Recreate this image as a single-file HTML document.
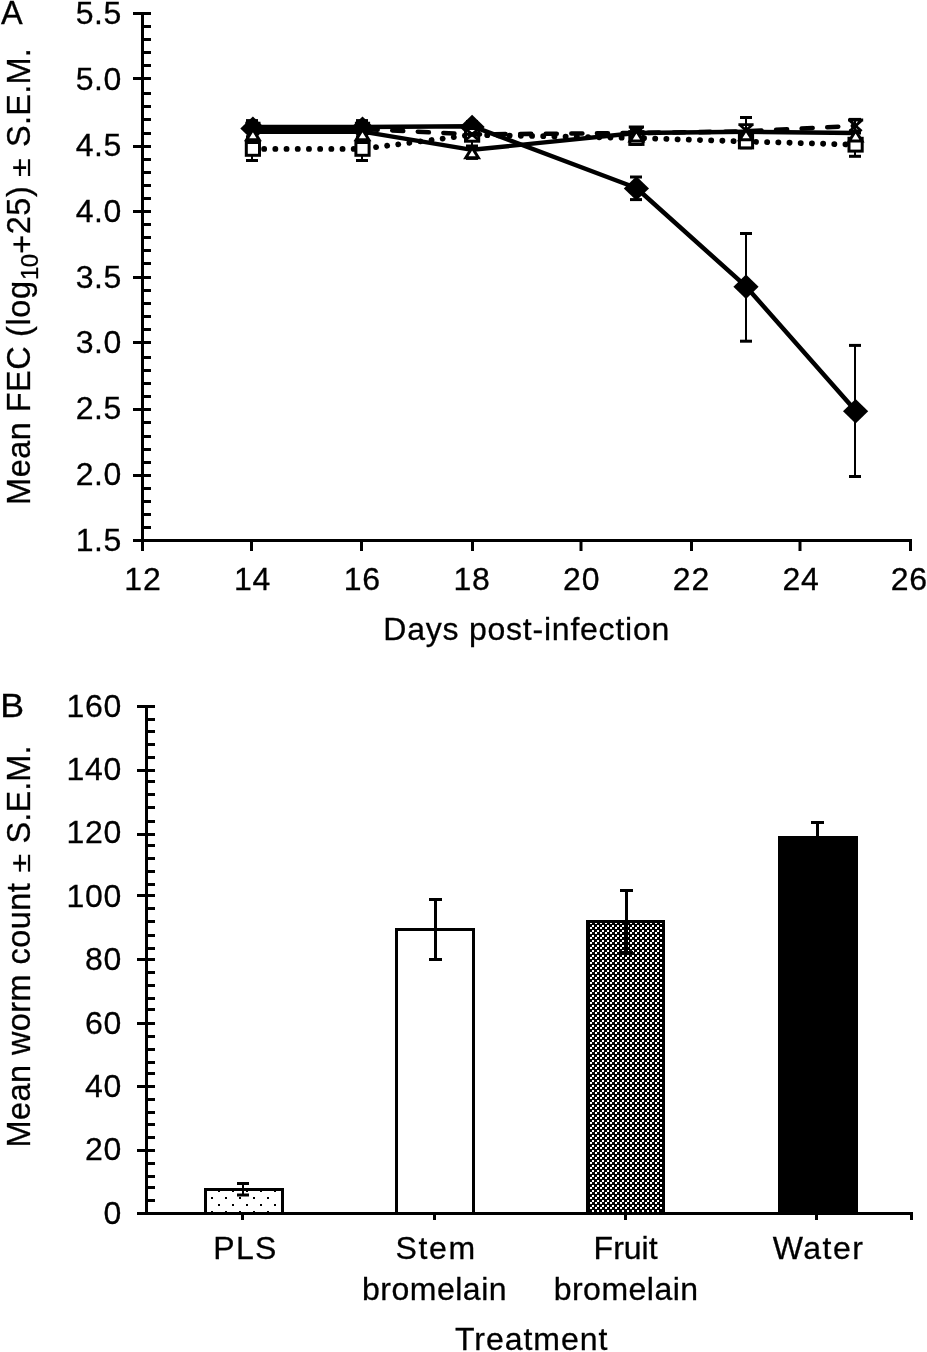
<!DOCTYPE html>
<html lang="en"><head><meta charset="utf-8"><title>Figure</title>
<style>html,body{margin:0;padding:0;background:#fff}svg{display:block;will-change:transform}text{stroke:#000;stroke-width:.3px}</style></head>
<body>
<svg width="927" height="1352" viewBox="0 0 927 1352" font-family="'Liberation Sans', sans-serif" fill="#000">
<defs>
<pattern id="dots" x="211" y="1197" width="14" height="14" patternUnits="userSpaceOnUse"><rect width="14" height="14" fill="#fff"/><rect x="0" y="0" width="2" height="2" fill="#000"/><rect x="7" y="7" width="2" height="2" fill="#000"/></pattern>
<pattern id="chk" x="590" y="1005" width="5" height="5" patternUnits="userSpaceOnUse"><rect width="5" height="5" fill="#000"/><rect x="2" y="0" width="2" height="2" fill="#fff"/><rect x="0" y="2" width="2" height="2" fill="#fff"/></pattern>
</defs>
<rect width="927" height="1352" fill="#fff"/>
<g id="panelA">
<text x="1.00" y="24.00" font-size="32.5" text-anchor="start" >A</text>
<line x1="142.50" y1="12.00" x2="142.50" y2="540.50" stroke="#000" stroke-width="3" />
<line x1="133.00" y1="13.50" x2="151.00" y2="13.50" stroke="#000" stroke-width="3" />
<text x="122.00" y="24.00" font-size="32" text-anchor="end" letter-spacing="0.6">5.5</text>
<line x1="142.50" y1="26.50" x2="151.00" y2="26.50" stroke="#000" stroke-width="3" />
<line x1="142.50" y1="39.50" x2="151.00" y2="39.50" stroke="#000" stroke-width="3" />
<line x1="142.50" y1="52.50" x2="151.00" y2="52.50" stroke="#000" stroke-width="3" />
<line x1="142.50" y1="65.50" x2="151.00" y2="65.50" stroke="#000" stroke-width="3" />
<line x1="133.00" y1="78.50" x2="151.00" y2="78.50" stroke="#000" stroke-width="3" />
<text x="122.00" y="89.88" font-size="32" text-anchor="end" letter-spacing="0.6">5.0</text>
<line x1="142.50" y1="93.50" x2="151.00" y2="93.50" stroke="#000" stroke-width="3" />
<line x1="142.50" y1="106.50" x2="151.00" y2="106.50" stroke="#000" stroke-width="3" />
<line x1="142.50" y1="119.50" x2="151.00" y2="119.50" stroke="#000" stroke-width="3" />
<line x1="142.50" y1="133.50" x2="151.00" y2="133.50" stroke="#000" stroke-width="3" />
<line x1="133.00" y1="146.50" x2="151.00" y2="146.50" stroke="#000" stroke-width="3" />
<text x="122.00" y="155.75" font-size="32" text-anchor="end" letter-spacing="0.6">4.5</text>
<line x1="142.50" y1="159.50" x2="151.00" y2="159.50" stroke="#000" stroke-width="3" />
<line x1="142.50" y1="172.50" x2="151.00" y2="172.50" stroke="#000" stroke-width="3" />
<line x1="142.50" y1="185.50" x2="151.00" y2="185.50" stroke="#000" stroke-width="3" />
<line x1="142.50" y1="198.50" x2="151.00" y2="198.50" stroke="#000" stroke-width="3" />
<line x1="133.00" y1="211.50" x2="151.00" y2="211.50" stroke="#000" stroke-width="3" />
<text x="122.00" y="221.62" font-size="32" text-anchor="end" letter-spacing="0.6">4.0</text>
<line x1="142.50" y1="224.50" x2="151.00" y2="224.50" stroke="#000" stroke-width="3" />
<line x1="142.50" y1="237.50" x2="151.00" y2="237.50" stroke="#000" stroke-width="3" />
<line x1="142.50" y1="250.50" x2="151.00" y2="250.50" stroke="#000" stroke-width="3" />
<line x1="142.50" y1="263.50" x2="151.00" y2="263.50" stroke="#000" stroke-width="3" />
<line x1="133.00" y1="277.50" x2="151.00" y2="277.50" stroke="#000" stroke-width="3" />
<text x="122.00" y="287.50" font-size="32" text-anchor="end" letter-spacing="0.6">3.5</text>
<line x1="142.50" y1="290.50" x2="151.00" y2="290.50" stroke="#000" stroke-width="3" />
<line x1="142.50" y1="303.50" x2="151.00" y2="303.50" stroke="#000" stroke-width="3" />
<line x1="142.50" y1="316.50" x2="151.00" y2="316.50" stroke="#000" stroke-width="3" />
<line x1="142.50" y1="329.50" x2="151.00" y2="329.50" stroke="#000" stroke-width="3" />
<line x1="133.00" y1="342.50" x2="151.00" y2="342.50" stroke="#000" stroke-width="3" />
<text x="122.00" y="353.38" font-size="32" text-anchor="end" letter-spacing="0.6">3.0</text>
<line x1="142.50" y1="357.50" x2="151.00" y2="357.50" stroke="#000" stroke-width="3" />
<line x1="142.50" y1="370.50" x2="151.00" y2="370.50" stroke="#000" stroke-width="3" />
<line x1="142.50" y1="383.50" x2="151.00" y2="383.50" stroke="#000" stroke-width="3" />
<line x1="142.50" y1="396.50" x2="151.00" y2="396.50" stroke="#000" stroke-width="3" />
<line x1="133.00" y1="409.50" x2="151.00" y2="409.50" stroke="#000" stroke-width="3" />
<text x="122.00" y="419.25" font-size="32" text-anchor="end" letter-spacing="0.6">2.5</text>
<line x1="142.50" y1="422.50" x2="151.00" y2="422.50" stroke="#000" stroke-width="3" />
<line x1="142.50" y1="436.50" x2="151.00" y2="436.50" stroke="#000" stroke-width="3" />
<line x1="142.50" y1="449.50" x2="151.00" y2="449.50" stroke="#000" stroke-width="3" />
<line x1="142.50" y1="462.50" x2="151.00" y2="462.50" stroke="#000" stroke-width="3" />
<line x1="133.00" y1="475.50" x2="151.00" y2="475.50" stroke="#000" stroke-width="3" />
<text x="122.00" y="485.12" font-size="32" text-anchor="end" letter-spacing="0.6">2.0</text>
<line x1="142.50" y1="488.50" x2="151.00" y2="488.50" stroke="#000" stroke-width="3" />
<line x1="142.50" y1="501.50" x2="151.00" y2="501.50" stroke="#000" stroke-width="3" />
<line x1="142.50" y1="514.50" x2="151.00" y2="514.50" stroke="#000" stroke-width="3" />
<line x1="142.50" y1="527.50" x2="151.00" y2="527.50" stroke="#000" stroke-width="3" />
<line x1="133.00" y1="540.50" x2="151.00" y2="540.50" stroke="#000" stroke-width="3" />
<text x="122.00" y="551.00" font-size="32" text-anchor="end" letter-spacing="0.6">1.5</text>
<line x1="133.00" y1="540.50" x2="912.00" y2="540.50" stroke="#000" stroke-width="3" />
<line x1="142.50" y1="540.50" x2="142.50" y2="551.00" stroke="#000" stroke-width="3" />
<text x="142.90" y="589.70" font-size="32" text-anchor="middle" letter-spacing="0.8">12</text>
<line x1="251.50" y1="540.50" x2="251.50" y2="551.00" stroke="#000" stroke-width="3" />
<text x="252.60" y="589.70" font-size="32" text-anchor="middle" letter-spacing="0.8">14</text>
<line x1="361.50" y1="540.50" x2="361.50" y2="551.00" stroke="#000" stroke-width="3" />
<text x="362.30" y="589.70" font-size="32" text-anchor="middle" letter-spacing="0.8">16</text>
<line x1="472.50" y1="540.50" x2="472.50" y2="551.00" stroke="#000" stroke-width="3" />
<text x="472.00" y="589.70" font-size="32" text-anchor="middle" letter-spacing="0.8">18</text>
<line x1="581.00" y1="540.50" x2="581.00" y2="551.00" stroke="#000" stroke-width="3" />
<text x="581.70" y="589.70" font-size="32" text-anchor="middle" letter-spacing="0.8">20</text>
<line x1="691.50" y1="540.50" x2="691.50" y2="551.00" stroke="#000" stroke-width="3" />
<text x="691.40" y="589.70" font-size="32" text-anchor="middle" letter-spacing="0.8">22</text>
<line x1="800.00" y1="540.50" x2="800.00" y2="551.00" stroke="#000" stroke-width="3" />
<text x="801.10" y="589.70" font-size="32" text-anchor="middle" letter-spacing="0.8">24</text>
<line x1="910.50" y1="540.50" x2="910.50" y2="551.00" stroke="#000" stroke-width="3" />
<text x="909.30" y="589.70" font-size="32" text-anchor="middle" letter-spacing="0.8">26</text>
<text x="526.30" y="640.00" font-size="32" text-anchor="middle" textLength="286" lengthAdjust="spacing" >Days post-infection</text>
<text transform="translate(30.0,504.9) rotate(-90)" font-size="32.5" letter-spacing="0.46">Mean FEC</text>
<text transform="translate(30.0,336.9) rotate(-90)" font-size="32.5" letter-spacing="0.59">(log</text>
<text transform="translate(38.2,280.0) rotate(-90)" font-size="24" letter-spacing="-0.5">10</text>
<text transform="translate(33.2,253.8) rotate(-90)" font-size="32.5">+</text>
<text transform="translate(30.0,234.3) rotate(-90)" font-size="32.5" letter-spacing="0.57">25)</text>
<text transform="translate(30.0,176.9) rotate(-90) scale(1.04,0.85)" font-size="32.5">±</text>
<text transform="translate(30.0,147.0) rotate(-90)" font-size="32.5" letter-spacing="0.26">S.E.M.</text>
<line x1="252.00" y1="120.60" x2="252.00" y2="137.00" stroke="#000" stroke-width="2" />
<line x1="246.00" y1="120.60" x2="258.00" y2="120.60" stroke="#000" stroke-width="3" />
<line x1="246.00" y1="137.00" x2="258.00" y2="137.00" stroke="#000" stroke-width="3" />
<line x1="362.00" y1="120.60" x2="362.00" y2="137.00" stroke="#000" stroke-width="2" />
<line x1="356.00" y1="120.60" x2="368.00" y2="120.60" stroke="#000" stroke-width="3" />
<line x1="356.00" y1="137.00" x2="368.00" y2="137.00" stroke="#000" stroke-width="3" />
<line x1="472.00" y1="121.50" x2="472.00" y2="134.00" stroke="#000" stroke-width="2" />
<line x1="466.00" y1="121.50" x2="478.00" y2="121.50" stroke="#000" stroke-width="3" />
<line x1="466.00" y1="134.00" x2="478.00" y2="134.00" stroke="#000" stroke-width="3" />
<line x1="636.00" y1="177.00" x2="636.00" y2="199.60" stroke="#000" stroke-width="2" />
<line x1="630.00" y1="177.00" x2="642.00" y2="177.00" stroke="#000" stroke-width="3" />
<line x1="630.00" y1="199.60" x2="642.00" y2="199.60" stroke="#000" stroke-width="3" />
<line x1="746.00" y1="233.50" x2="746.00" y2="341.20" stroke="#000" stroke-width="2" />
<line x1="740.00" y1="233.50" x2="752.00" y2="233.50" stroke="#000" stroke-width="3" />
<line x1="740.00" y1="341.20" x2="752.00" y2="341.20" stroke="#000" stroke-width="3" />
<line x1="855.00" y1="345.40" x2="855.00" y2="476.50" stroke="#000" stroke-width="2" />
<line x1="849.00" y1="345.40" x2="861.00" y2="345.40" stroke="#000" stroke-width="3" />
<line x1="849.00" y1="476.50" x2="861.00" y2="476.50" stroke="#000" stroke-width="3" />
<polyline points="252.9,127.1 362.5,127.0 472.1,126.2 636.4,188.0 746.0,286.4 855.6,410.8" fill="none" stroke="#000" stroke-width="4.5" stroke-linejoin="round" />
<path d="M252.9 116.4L265.5 128.6L252.9 140.8L240.3 128.6Z" fill="#000"/>
<path d="M362.5 116.4L375.1 128.6L362.5 140.8L349.9 128.6Z" fill="#000"/>
<path d="M472.1 114.8L484.7 127.0L472.1 139.2L459.5 127.0Z" fill="#000"/>
<path d="M636.4 176.2L649.0 188.4L636.4 200.6L623.8 188.4Z" fill="#000"/>
<path d="M746.0 274.6L758.6 286.8L746.0 299.0L733.4 286.8Z" fill="#000"/>
<path d="M855.6 399.0L868.2 411.2L855.6 423.4L843.0 411.2Z" fill="#000"/>
<rect x="252.9" y="125" width="109.6" height="8.8" fill="#000"/>
<line x1="252.00" y1="137.00" x2="252.00" y2="160.50" stroke="#000" stroke-width="2" />
<line x1="246.00" y1="137.00" x2="258.00" y2="137.00" stroke="#000" stroke-width="3" />
<line x1="246.00" y1="160.50" x2="258.00" y2="160.50" stroke="#000" stroke-width="3" />
<line x1="362.00" y1="137.00" x2="362.00" y2="160.50" stroke="#000" stroke-width="2" />
<line x1="356.00" y1="137.00" x2="368.00" y2="137.00" stroke="#000" stroke-width="3" />
<line x1="356.00" y1="160.50" x2="368.00" y2="160.50" stroke="#000" stroke-width="3" />
<line x1="472.00" y1="130.00" x2="472.00" y2="147.00" stroke="#000" stroke-width="2" />
<line x1="466.00" y1="130.00" x2="478.00" y2="130.00" stroke="#000" stroke-width="3" />
<line x1="466.00" y1="147.00" x2="478.00" y2="147.00" stroke="#000" stroke-width="3" />
<line x1="636.00" y1="132.00" x2="636.00" y2="144.40" stroke="#000" stroke-width="2" />
<line x1="630.00" y1="132.00" x2="642.00" y2="132.00" stroke="#000" stroke-width="3" />
<line x1="630.00" y1="144.40" x2="642.00" y2="144.40" stroke="#000" stroke-width="3" />
<line x1="746.00" y1="133.00" x2="746.00" y2="147.80" stroke="#000" stroke-width="2" />
<line x1="740.00" y1="133.00" x2="752.00" y2="133.00" stroke="#000" stroke-width="3" />
<line x1="740.00" y1="147.80" x2="752.00" y2="147.80" stroke="#000" stroke-width="3" />
<line x1="855.00" y1="133.00" x2="855.00" y2="156.30" stroke="#000" stroke-width="2" />
<line x1="849.00" y1="133.00" x2="861.00" y2="133.00" stroke="#000" stroke-width="3" />
<line x1="849.00" y1="156.30" x2="861.00" y2="156.30" stroke="#000" stroke-width="3" />
<polyline points="252.9,148.9 362.5,148.9 472.1,134.8 636.4,138.0 746.0,141.5 855.6,144.7" fill="none" stroke="#000" stroke-width="5.8" stroke-linejoin="round" stroke-linecap="round" stroke-dasharray="0.1 11.1"/>
<rect x="246.3" y="142.5" width="13.2" height="12.8" fill="#fff" stroke="#000" stroke-width="3"/>
<rect x="355.9" y="142.5" width="13.2" height="12.8" fill="#fff" stroke="#000" stroke-width="3"/>
<rect x="465.5" y="128.4" width="13.2" height="12.8" fill="#fff" stroke="#000" stroke-width="3"/>
<rect x="629.8" y="131.6" width="13.2" height="12.8" fill="#fff" stroke="#000" stroke-width="3"/>
<rect x="739.4" y="135.1" width="13.2" height="12.8" fill="#fff" stroke="#000" stroke-width="3"/>
<rect x="849.0" y="138.3" width="13.2" height="12.8" fill="#fff" stroke="#000" stroke-width="3"/>
<line x1="636.00" y1="128.60" x2="636.00" y2="138.00" stroke="#000" stroke-width="2" />
<line x1="630.00" y1="128.60" x2="642.00" y2="128.60" stroke="#000" stroke-width="3" />
<line x1="630.00" y1="138.00" x2="642.00" y2="138.00" stroke="#000" stroke-width="3" />
<line x1="746.00" y1="117.50" x2="746.00" y2="136.00" stroke="#000" stroke-width="2" />
<line x1="740.00" y1="117.50" x2="752.00" y2="117.50" stroke="#000" stroke-width="3" />
<line x1="740.00" y1="136.00" x2="752.00" y2="136.00" stroke="#000" stroke-width="3" />
<line x1="855.00" y1="119.40" x2="855.00" y2="131.00" stroke="#000" stroke-width="2" />
<line x1="849.00" y1="119.40" x2="861.00" y2="119.40" stroke="#000" stroke-width="3" />
<line x1="849.00" y1="131.00" x2="861.00" y2="131.00" stroke="#000" stroke-width="3" />
<polyline points="252.9,129.0 362.5,129.0 472.1,134.4 636.4,133.0 746.0,131.4 855.6,125.8" fill="none" stroke="#000" stroke-width="4.6" stroke-linejoin="round" stroke-linecap="round" stroke-dasharray="11 14.6" stroke-dashoffset="-11.4"/>
<path d="M246.9 123.6L258.9 134.4M258.9 123.6L246.9 134.4M245.3 123.2H260.5" fill="none" stroke="#000" stroke-width="2.8"/>
<path d="M356.5 123.6L368.5 134.4M368.5 123.6L356.5 134.4M354.9 123.2H370.1" fill="none" stroke="#000" stroke-width="2.8"/>
<path d="M466.1 129.0L478.1 139.8M478.1 129.0L466.1 139.8M464.5 128.6H479.7" fill="none" stroke="#000" stroke-width="2.8"/>
<path d="M630.4 127.4L642.4 138.2M642.4 127.4L630.4 138.2M628.8 127.0H644.0" fill="none" stroke="#000" stroke-width="2.8"/>
<path d="M740.0 125.0L752.0 135.8M752.0 125.0L740.0 135.8M738.4 124.6H753.6" fill="none" stroke="#000" stroke-width="2.8"/>
<path d="M849.6 120.4L861.6 131.2M861.6 120.4L849.6 131.2M848.0 120.0H863.2" fill="none" stroke="#000" stroke-width="2.8"/>
<line x1="472.00" y1="146.00" x2="472.00" y2="158.40" stroke="#000" stroke-width="2" />
<line x1="466.00" y1="146.00" x2="478.00" y2="146.00" stroke="#000" stroke-width="3" />
<line x1="466.00" y1="158.40" x2="478.00" y2="158.40" stroke="#000" stroke-width="3" />
<polyline points="252.9,131.7 362.5,131.7 472.1,149.8 636.4,133.0 746.0,131.8 855.6,133.0" fill="none" stroke="#000" stroke-width="4.4" stroke-linejoin="round" />
<path d="M252.9 129.5L259.2 139.7H246.6Z" fill="#fff" stroke="#000" stroke-width="3" stroke-linejoin="miter"/>
<path d="M362.5 129.5L368.8 139.7H356.2Z" fill="#fff" stroke="#000" stroke-width="3" stroke-linejoin="miter"/>
<path d="M472.1 147.6L478.4 157.8H465.8Z" fill="#fff" stroke="#000" stroke-width="3" stroke-linejoin="miter"/>
<path d="M636.4 130.8L642.7 141.0H630.1Z" fill="#fff" stroke="#000" stroke-width="3" stroke-linejoin="miter"/>
<path d="M746.0 129.6L752.3 139.8H739.7Z" fill="#fff" stroke="#000" stroke-width="3" stroke-linejoin="miter"/>
<path d="M855.6 130.8L861.9 141.0H849.3Z" fill="#fff" stroke="#000" stroke-width="3" stroke-linejoin="miter"/>
</g>
<g id="panelB">
<text transform="translate(0.2,716.6) scale(1.1,1)" font-size="32.5">B</text>
<line x1="146.50" y1="705.00" x2="146.50" y2="1213.50" stroke="#000" stroke-width="3" />
<line x1="137.00" y1="706.50" x2="155.00" y2="706.50" stroke="#000" stroke-width="3" />
<text x="122.00" y="716.70" font-size="32" text-anchor="end" letter-spacing="0.7">160</text>
<line x1="146.50" y1="719.50" x2="155.00" y2="719.50" stroke="#000" stroke-width="3" />
<line x1="146.50" y1="731.50" x2="155.00" y2="731.50" stroke="#000" stroke-width="3" />
<line x1="146.50" y1="744.50" x2="155.00" y2="744.50" stroke="#000" stroke-width="3" />
<line x1="146.50" y1="757.50" x2="155.00" y2="757.50" stroke="#000" stroke-width="3" />
<line x1="137.00" y1="770.50" x2="155.00" y2="770.50" stroke="#000" stroke-width="3" />
<text x="122.00" y="780.08" font-size="32" text-anchor="end" letter-spacing="0.7">140</text>
<line x1="146.50" y1="781.50" x2="155.00" y2="781.50" stroke="#000" stroke-width="3" />
<line x1="146.50" y1="794.50" x2="155.00" y2="794.50" stroke="#000" stroke-width="3" />
<line x1="146.50" y1="807.50" x2="155.00" y2="807.50" stroke="#000" stroke-width="3" />
<line x1="146.50" y1="821.50" x2="155.00" y2="821.50" stroke="#000" stroke-width="3" />
<line x1="137.00" y1="834.50" x2="155.00" y2="834.50" stroke="#000" stroke-width="3" />
<text x="122.00" y="843.45" font-size="32" text-anchor="end" letter-spacing="0.7">120</text>
<line x1="146.50" y1="845.50" x2="155.00" y2="845.50" stroke="#000" stroke-width="3" />
<line x1="146.50" y1="858.50" x2="155.00" y2="858.50" stroke="#000" stroke-width="3" />
<line x1="146.50" y1="871.50" x2="155.00" y2="871.50" stroke="#000" stroke-width="3" />
<line x1="146.50" y1="884.50" x2="155.00" y2="884.50" stroke="#000" stroke-width="3" />
<line x1="137.00" y1="895.50" x2="155.00" y2="895.50" stroke="#000" stroke-width="3" />
<text x="122.00" y="906.83" font-size="32" text-anchor="end" letter-spacing="0.7">100</text>
<line x1="146.50" y1="908.50" x2="155.00" y2="908.50" stroke="#000" stroke-width="3" />
<line x1="146.50" y1="921.50" x2="155.00" y2="921.50" stroke="#000" stroke-width="3" />
<line x1="146.50" y1="935.50" x2="155.00" y2="935.50" stroke="#000" stroke-width="3" />
<line x1="146.50" y1="948.50" x2="155.00" y2="948.50" stroke="#000" stroke-width="3" />
<line x1="137.00" y1="959.50" x2="155.00" y2="959.50" stroke="#000" stroke-width="3" />
<text x="122.00" y="970.20" font-size="32" text-anchor="end" letter-spacing="0.7">80</text>
<line x1="146.50" y1="972.50" x2="155.00" y2="972.50" stroke="#000" stroke-width="3" />
<line x1="146.50" y1="985.50" x2="155.00" y2="985.50" stroke="#000" stroke-width="3" />
<line x1="146.50" y1="998.50" x2="155.00" y2="998.50" stroke="#000" stroke-width="3" />
<line x1="146.50" y1="1009.50" x2="155.00" y2="1009.50" stroke="#000" stroke-width="3" />
<line x1="137.00" y1="1023.50" x2="155.00" y2="1023.50" stroke="#000" stroke-width="3" />
<text x="122.00" y="1033.58" font-size="32" text-anchor="end" letter-spacing="0.7">60</text>
<line x1="146.50" y1="1036.50" x2="155.00" y2="1036.50" stroke="#000" stroke-width="3" />
<line x1="146.50" y1="1049.50" x2="155.00" y2="1049.50" stroke="#000" stroke-width="3" />
<line x1="146.50" y1="1062.50" x2="155.00" y2="1062.50" stroke="#000" stroke-width="3" />
<line x1="146.50" y1="1073.50" x2="155.00" y2="1073.50" stroke="#000" stroke-width="3" />
<line x1="137.00" y1="1086.50" x2="155.00" y2="1086.50" stroke="#000" stroke-width="3" />
<text x="122.00" y="1096.95" font-size="32" text-anchor="end" letter-spacing="0.7">40</text>
<line x1="146.50" y1="1099.50" x2="155.00" y2="1099.50" stroke="#000" stroke-width="3" />
<line x1="146.50" y1="1112.50" x2="155.00" y2="1112.50" stroke="#000" stroke-width="3" />
<line x1="146.50" y1="1124.50" x2="155.00" y2="1124.50" stroke="#000" stroke-width="3" />
<line x1="146.50" y1="1137.50" x2="155.00" y2="1137.50" stroke="#000" stroke-width="3" />
<line x1="137.00" y1="1150.50" x2="155.00" y2="1150.50" stroke="#000" stroke-width="3" />
<text x="122.00" y="1160.33" font-size="32" text-anchor="end" letter-spacing="0.7">20</text>
<line x1="146.50" y1="1163.50" x2="155.00" y2="1163.50" stroke="#000" stroke-width="3" />
<line x1="146.50" y1="1176.50" x2="155.00" y2="1176.50" stroke="#000" stroke-width="3" />
<line x1="146.50" y1="1187.50" x2="155.00" y2="1187.50" stroke="#000" stroke-width="3" />
<line x1="146.50" y1="1200.50" x2="155.00" y2="1200.50" stroke="#000" stroke-width="3" />
<line x1="137.00" y1="1213.50" x2="155.00" y2="1213.50" stroke="#000" stroke-width="3" />
<text x="122.00" y="1223.70" font-size="32" text-anchor="end" letter-spacing="0.7">0</text>
<line x1="137.00" y1="1213.50" x2="913.00" y2="1213.50" stroke="#000" stroke-width="3" />
<line x1="242.50" y1="1213.50" x2="242.50" y2="1220.00" stroke="#000" stroke-width="3" />
<line x1="434.50" y1="1213.50" x2="434.50" y2="1220.00" stroke="#000" stroke-width="3" />
<line x1="625.50" y1="1213.50" x2="625.50" y2="1220.00" stroke="#000" stroke-width="3" />
<line x1="816.50" y1="1213.50" x2="816.50" y2="1220.00" stroke="#000" stroke-width="3" />
<line x1="911.50" y1="1213.50" x2="911.50" y2="1220.00" stroke="#000" stroke-width="3" />
<rect x="205.5" y="1189.5" width="77.0" height="24.0" fill="url(#dots)" stroke="#000" stroke-width="3"/>
<rect x="396.5" y="929.5" width="77.0" height="284.0" fill="#fff" stroke="#000" stroke-width="3"/>
<rect x="587.5" y="921.5" width="76.0" height="292.0" fill="url(#chk)" stroke="#000" stroke-width="3"/>
<rect x="779.5" y="837.5" width="77.0" height="376.0" fill="#000" stroke="#000" stroke-width="3"/>
<line x1="243.00" y1="1183.50" x2="243.00" y2="1195.00" stroke="#000" stroke-width="2" />
<line x1="237.00" y1="1183.50" x2="249.00" y2="1183.50" stroke="#000" stroke-width="3" />
<line x1="237.00" y1="1195.00" x2="249.00" y2="1195.00" stroke="#000" stroke-width="3" />
<line x1="435.50" y1="899.50" x2="435.50" y2="959.50" stroke="#000" stroke-width="3" />
<line x1="429.00" y1="899.50" x2="442.00" y2="899.50" stroke="#000" stroke-width="3" />
<line x1="429.00" y1="959.50" x2="442.00" y2="959.50" stroke="#000" stroke-width="3" />
<line x1="626.50" y1="890.50" x2="626.50" y2="952.50" stroke="#000" stroke-width="3" />
<line x1="620.00" y1="890.50" x2="633.00" y2="890.50" stroke="#000" stroke-width="3" />
<line x1="620.00" y1="952.50" x2="633.00" y2="952.50" stroke="#000" stroke-width="3" />
<line x1="817.50" y1="822.50" x2="817.50" y2="850.00" stroke="#000" stroke-width="3" />
<line x1="811.00" y1="822.50" x2="824.00" y2="822.50" stroke="#000" stroke-width="3" />
<line x1="811.00" y1="850.00" x2="824.00" y2="850.00" stroke="#000" stroke-width="3" />
<text x="244.80" y="1259.40" font-size="32" text-anchor="middle" textLength="63" lengthAdjust="spacing" >PLS</text>
<text x="435.30" y="1259.40" font-size="32" text-anchor="middle" textLength="79.5" lengthAdjust="spacing" >Stem</text>
<text x="434.30" y="1299.60" font-size="32" text-anchor="middle" textLength="144.5" lengthAdjust="spacing" >bromelain</text>
<text x="625.60" y="1259.40" font-size="32" text-anchor="middle" textLength="64" lengthAdjust="spacing" >Fruit</text>
<text x="625.90" y="1299.60" font-size="32" text-anchor="middle" textLength="144.5" lengthAdjust="spacing" >bromelain</text>
<text x="817.80" y="1259.40" font-size="32" text-anchor="middle" textLength="90" lengthAdjust="spacing" >Water</text>
<text x="531.20" y="1349.60" font-size="32" text-anchor="middle" textLength="152.5" lengthAdjust="spacing" >Treatment</text>
<text transform="translate(30.0,1147.6) rotate(-90)" font-size="32.5" letter-spacing="0.43">Mean worm count</text>
<text transform="translate(30.0,872.5) rotate(-90) scale(1.04,0.85)" font-size="32.5">±</text>
<text transform="translate(30.0,843.6) rotate(-90)" font-size="32.5" letter-spacing="0.14">S.E.M.</text>
</g>
</svg>
</body></html>
